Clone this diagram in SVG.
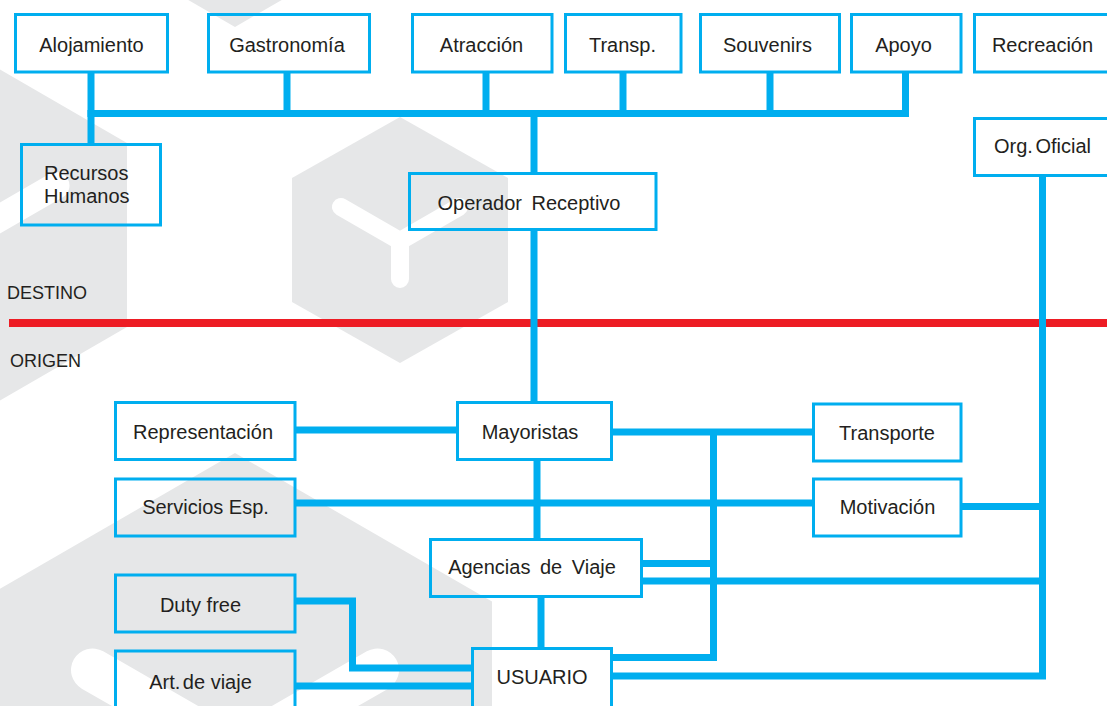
<svg xmlns="http://www.w3.org/2000/svg" width="1107" height="706" viewBox="0 0 1107 706">
<defs>
<style>
.hex{fill:#e6e7e8;stroke:none}
.logo{fill:none;stroke:#ffffff;stroke-linecap:round;stroke-linejoin:round}
.box{fill:none;stroke:#00aeef;stroke-width:3}
.lbl{font-family:"Liberation Sans",Arial,sans-serif;font-size:20px;fill:#231f20;text-anchor:middle}
.side{font-family:"Liberation Sans",Arial,sans-serif;font-size:18px;fill:#231f20}
.wire{fill:none;stroke:#00aeef;stroke-width:7;stroke-linecap:butt;stroke-linejoin:miter}
</style>
</defs>
<rect width="1107" height="706" fill="#ffffff"/>
<g id="background">
<polygon class="hex" points="-22,-121.5 235,27 492,-121.5 492,-418 235,-567 -22,-418"/>
<polygon class="hex" points="-32,51 127,143 127,327 -32,419 -191,327 -191,143"/>
<polygon class="hex" points="400,117 508,178 508,302 400,363 292,302 292,178"/>
<polygon class="hex" points="235,453 492,601.5 492,898.5 235,1047 -22,898.5 -22,601.5"/>
<path class="logo" stroke-width="18" d="M341 207 L400 241 L459 207 M400 241 V279"/>
<path class="logo" stroke-width="27" d="M-120 185.6 L-32 236.5 L56 185.6 M-32 236.5 V292"/>
<path class="logo" stroke-width="43" d="M92.5 670 L235 752 L377.5 670 M235 752 V840"/>
<line x1="9" y1="323" x2="1107" y2="323" stroke="#ed1c24" stroke-width="8"/>
<text class="side" x="7" y="299">DESTINO</text>
<text class="side" x="10" y="367">ORIGEN</text>
</g>
<g id="connectors">
<path class="wire" d="M91 72 V144"/>
<path class="wire" d="M87.5 113.5 H909"/>
<path class="wire" d="M287 72 V113.5"/>
<path class="wire" d="M486 72 V113.5"/>
<path class="wire" d="M623 72 V113.5"/>
<path class="wire" d="M770 72 V113.5"/>
<path class="wire" d="M905.5 72 V117"/>
<path class="wire" d="M534 113.5 V173"/>
<path class="wire" d="M534 230 V402"/>
<path class="wire" d="M1042.5 176 V676 H611"/>
<path class="wire" d="M295 430 H457"/>
<path class="wire" d="M611 432 H813"/>
<path class="wire" d="M713.5 432 V657.5 H611"/>
<path class="wire" d="M295 503 H813"/>
<path class="wire" d="M961 506.5 H1042.5"/>
<path class="wire" d="M537 460 V539"/>
<path class="wire" d="M641 563.5 H713.5"/>
<path class="wire" d="M641 581 H1042.5"/>
<path class="wire" d="M541 597 V648"/>
<path class="wire" d="M295 601 H352.5 V668 H472"/>
<path class="wire" d="M295 686 H472"/>
</g>
<g id="n-alojamiento"><rect class="box" x="15.5" y="14.5" width="152" height="57.5"/><text class="lbl" x="91.5" y="51.5">Alojamiento</text></g>
<g id="n-gastronomia"><rect class="box" x="208.5" y="14.5" width="161" height="57.5"/><text class="lbl" x="287" y="51.5">Gastronomía</text></g>
<g id="n-atraccion"><rect class="box" x="412.5" y="14.5" width="139.5" height="57.5"/><text class="lbl" x="481.5" y="51.5">Atracción</text></g>
<g id="n-transp"><rect class="box" x="565.5" y="14.5" width="115.5" height="57.5"/><text class="lbl" x="622.5" y="51.5">Transp.</text></g>
<g id="n-souvenirs"><rect class="box" x="700.5" y="14.5" width="139" height="57.5"/><text class="lbl" x="767.5" y="51.5">Souvenirs</text></g>
<g id="n-apoyo"><rect class="box" x="851.5" y="14.5" width="109.5" height="57.5"/><text class="lbl" x="903.5" y="51.5">Apoyo</text></g>
<g id="n-recreacion"><rect class="box" x="974.5" y="14.5" width="140" height="57.5"/><text class="lbl" x="1042.5" y="51.5">Recreación</text></g>
<g id="n-orgoficial"><rect class="box" x="974.5" y="118.5" width="140" height="57"/><text class="lbl" x="1042.5" y="153" word-spacing="-3">Org. Oficial</text></g>
<g id="n-recursos"><rect class="box" x="21.5" y="144.5" width="139" height="80.5"/><text class="lbl" style="text-anchor:start" x="44" y="180">Recursos</text><text class="lbl" style="text-anchor:start" x="44" y="202.5">Humanos</text></g>
<g id="n-operador"><rect class="box" x="409.5" y="173.5" width="246.5" height="56"/><text class="lbl" x="529" y="209.5" word-spacing="4">Operador Receptivo</text></g>
<g id="n-representacion"><rect class="box" x="115.5" y="402.5" width="179.5" height="57"/><text class="lbl" x="203" y="439">Representación</text></g>
<g id="n-mayoristas"><rect class="box" x="457.5" y="402.5" width="154" height="57"/><text class="lbl" x="530" y="439">Mayoristas</text></g>
<g id="n-transporte"><rect class="box" x="813.5" y="404" width="147.5" height="57"/><text class="lbl" x="887" y="439.5">Transporte</text></g>
<g id="n-servicios"><rect class="box" x="115.5" y="479" width="179.5" height="57"/><text class="lbl" x="205.5" y="513.5">Servicios Esp.</text></g>
<g id="n-motivacion"><rect class="box" x="813.5" y="479" width="147.5" height="57"/><text class="lbl" x="887.5" y="513.5">Motivación</text></g>
<g id="n-agencias"><rect class="box" x="430.5" y="539.5" width="211" height="57"/><text class="lbl" x="532" y="574" word-spacing="4">Agencias de Viaje</text></g>
<g id="n-dutyfree"><rect class="box" x="115.5" y="575" width="179.5" height="57"/><text class="lbl" x="200.5" y="611.5">Duty free</text></g>
<g id="n-artviaje"><rect class="box" x="115.5" y="651" width="179.5" height="62"/><text class="lbl" x="200.5" y="689">Art.<tspan dx="-3"> de viaje</tspan></text></g>
<g id="n-usuario"><rect class="box" x="472.5" y="648.5" width="139" height="64"/><text class="lbl" x="542" y="684">USUARIO</text></g>
</svg>
